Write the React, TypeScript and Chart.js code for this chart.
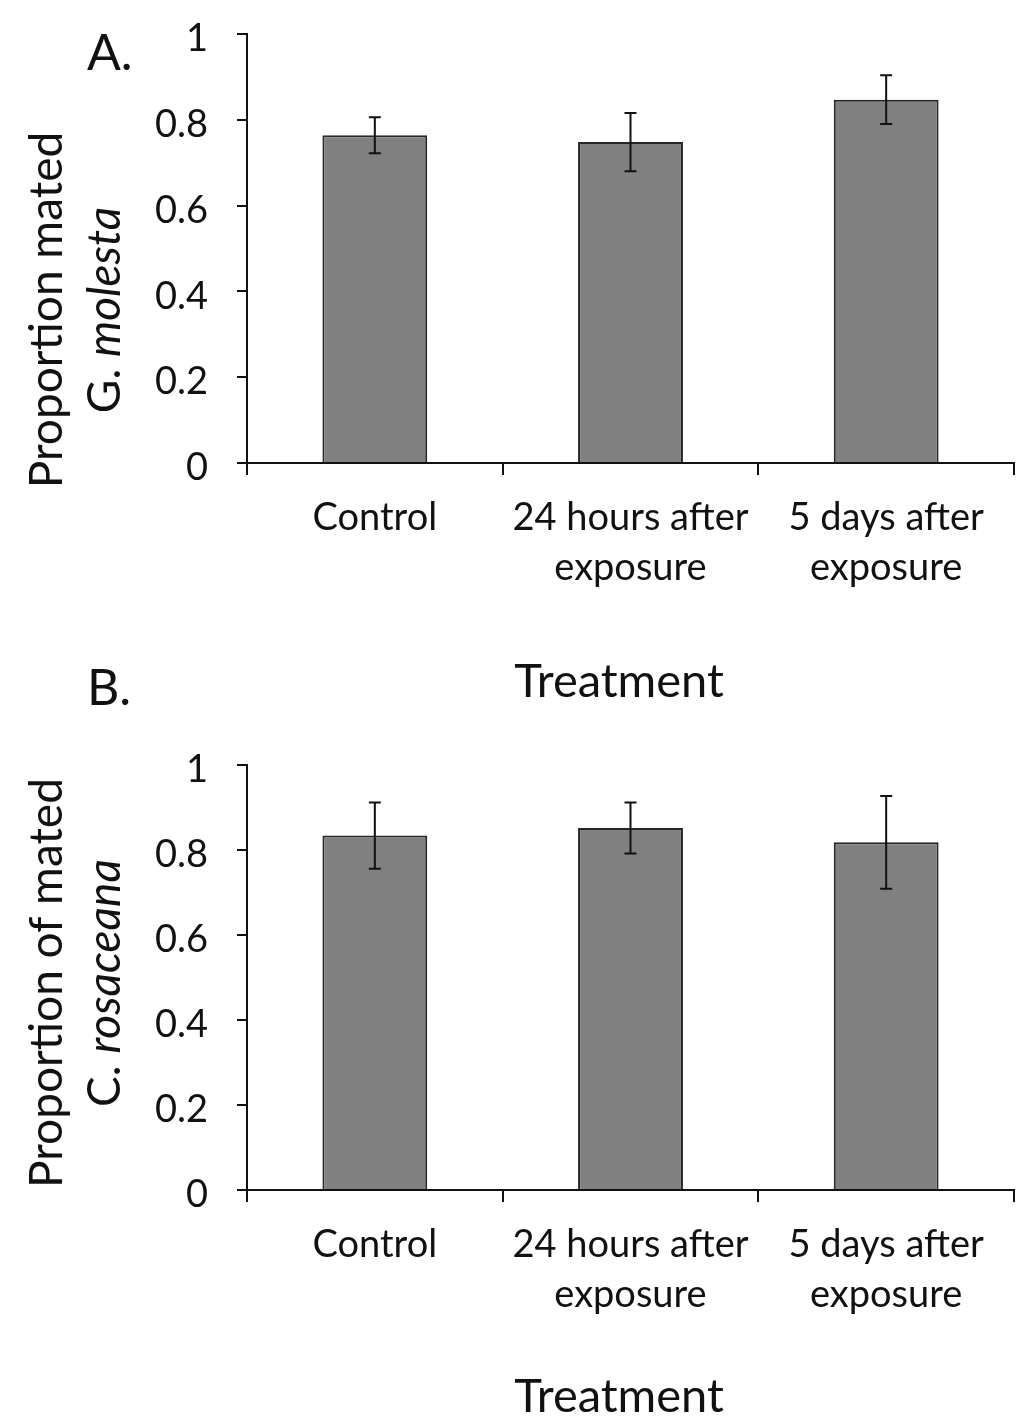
import { useEffect, useRef } from "react"
import { Chart, registerables } from "chart.js"

Chart.register(...registerables)

// categories and tick values
const treatments = [["Control"], ["24 hours after", "exposure"], ["5 days after", "exposure"]]
const yTicks = [0, 0.2, 0.4, 0.6, 0.8, 1]

// panel A: G. molesta
const molestaMean = [0.764, 0.748, 0.847]
const molestaErr = [0.042, 0.068, 0.057]

// panel B: C. rosaceana
const rosaceanaMean = [0.834, 0.852, 0.818]
const rosaceanaErr = [0.078, 0.06, 0.109]

const FONT = "Lato"
const INK = "#111111"

type Seg = { text: string; italic?: boolean }

interface TitleOpts {
  letter: string
  letterX: number
  letterY: number
  yLines: Seg[][]
  yBaselines: number[]
  yCenter: number
  xCenter: number
  xBaseline: number
}

const errorBars = {
  id: "errorBars",
  afterDatasetsDraw(chart: any, _args: any, opts: any) {
    const { ctx } = chart
    const meta = chart.getDatasetMeta(0)
    const y = chart.scales.y
    const means = chart.data.datasets[0].data as number[]
    const errs = opts.errors as number[]
    ctx.save()
    ctx.strokeStyle = INK
    ctx.lineWidth = 2
    meta.data.forEach((bar: any, i: number) => {
      const top = y.getPixelForValue(means[i] + errs[i])
      const bot = y.getPixelForValue(means[i] - errs[i])
      ctx.beginPath()
      ctx.moveTo(bar.x, top)
      ctx.lineTo(bar.x, bot)
      ctx.moveTo(bar.x - 6, top)
      ctx.lineTo(bar.x + 6, top)
      ctx.moveTo(bar.x - 6, bot)
      ctx.lineTo(bar.x + 6, bot)
      ctx.stroke()
    })
    ctx.restore()
  },
}

const titles = {
  id: "titles",
  afterDraw(chart: any, _args: any, opts: TitleOpts) {
    const { ctx } = chart
    ctx.save()
    ctx.fillStyle = INK
    ctx.textBaseline = "alphabetic"

    // panel letter
    ctx.font = `50px ${FONT}`
    ctx.textAlign = "left"
    ctx.fillText(opts.letter, opts.letterX, opts.letterY)

    // x title
    ctx.font = `47px ${FONT}`
    ctx.textAlign = "center"
    ctx.fillText("Treatment", opts.xCenter, opts.xBaseline)

    // y title, rotated, with italic parts
    ctx.textAlign = "left"
    opts.yLines.forEach((line, li) => {
      const fontOf = (s: Seg) => `${s.italic ? "italic " : ""}46px ${FONT}`
      let total = 0
      line.forEach((s) => {
        ctx.font = fontOf(s)
        total += ctx.measureText(s.text).width
      })
      ctx.save()
      ctx.translate(opts.yBaselines[li], opts.yCenter)
      ctx.rotate(-Math.PI / 2)
      let x = -total / 2
      line.forEach((s) => {
        ctx.font = fontOf(s)
        ctx.fillText(s.text, x, 0)
        x += ctx.measureText(s.text).width
      })
      ctx.restore()
    })
    ctx.restore()
  },
}

interface PanelProps {
  mean: number[]
  err: number[]
  top: number
  height: number
  areaTop: number
  areaBottom: number
  titleOpts: TitleOpts
}

function Panel({ mean, err, top, height, areaTop, areaBottom, titleOpts }: PanelProps) {
  const chartRef = useRef<HTMLCanvasElement>(null)

  useEffect(() => {
    if (!chartRef.current) return
    const chart = new Chart(chartRef.current, {
      type: "bar",
      data: {
        labels: treatments,
        datasets: [
          {
            data: mean,
            backgroundColor: "#808080",
            borderColor: "#262626",
            borderWidth: 2,
            categoryPercentage: 1,
            barPercentage: 0.41,
          },
        ],
      },
      options: {
        responsive: false,
        animation: false,
        devicePixelRatio: 1,
        layout: { padding: { top: areaTop, right: 10, left: 0, bottom: 0 } },
        plugins: {
          legend: { display: false },
          tooltip: { enabled: false },
          errorBars: { errors: err },
          titles: titleOpts,
        } as any,
        scales: {
          x: {
            offset: true,
            grid: {
              offset: true,
              drawOnChartArea: false,
              tickLength: 12,
              color: INK,
              lineWidth: 2,
            },
            border: { color: INK, width: 2 },
            ticks: {
              color: INK,
              font: { family: FONT, size: 38, lineHeight: 1.32 },
              padding: 18,
              maxRotation: 0,
              autoSkip: false,
            },
            afterFit: (s: any) => {
              s.height = height - areaBottom
            },
          },
          y: {
            min: 0,
            max: 1,
            grid: {
              drawOnChartArea: false,
              tickLength: 10,
              color: INK,
              lineWidth: 2,
            },
            border: { color: INK, width: 2 },
            ticks: {
              color: INK,
              font: { family: FONT, size: 38 },
              padding: 29,
              labelOffset: 5,
              callback: (v: any) => String(v),
            },
            afterBuildTicks: (s: any) => {
              s.ticks = yTicks.map((v) => ({ value: v }))
            },
            afterFit: (s: any) => {
              s.width = 247
              s.paddingTop = 0
              s.paddingBottom = 0
            },
          },
        },
      },
      plugins: [errorBars, titles],
    })
    return () => chart.destroy()
  }, [mean, err, top, height, areaTop, areaBottom, titleOpts])

  return (
    <canvas
      ref={chartRef}
      width={1024}
      height={height}
      style={{ position: "absolute", left: 0, top, width: 1024, height }}
    />
  )
}

const titleA: TitleOpts = {
  letter: "A.",
  letterX: 87,
  letterY: 70,
  yLines: [[{ text: "Proportion mated" }], [{ text: "G. " }, { text: "molesta", italic: true }]],
  yBaselines: [62, 120],
  yCenter: 310,
  xCenter: 619,
  xBaseline: 697,
}

const titleB: TitleOpts = {
  letter: "B.",
  letterX: 87,
  letterY: 65,
  yLines: [[{ text: "Proportion of mated" }], [{ text: "C. " }, { text: "rosaceana", italic: true }]],
  yBaselines: [62, 120],
  yCenter: 343,
  xCenter: 619,
  xBaseline: 772,
}

export default function App() {
  return (
    <div style={{ position: "absolute", left: 0, top: 0, width: 1024, height: 1426, background: "#fff" }}>
      <Panel mean={molestaMean} err={molestaErr} top={0} height={730} areaTop={34} areaBottom={463} titleOpts={titleA} />
      <Panel mean={rosaceanaMean} err={rosaceanaErr} top={640} height={786} areaTop={125} areaBottom={550} titleOpts={titleB} />
    </div>
  )
}
